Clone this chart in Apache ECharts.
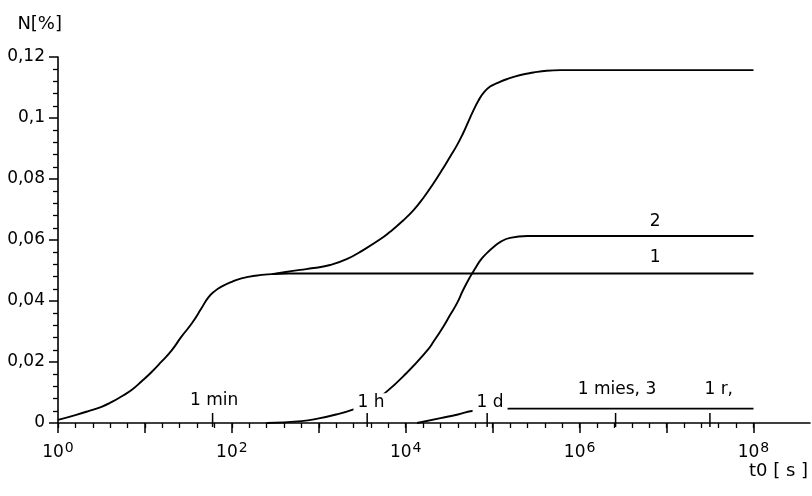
<!DOCTYPE html>
<html><head><meta charset="utf-8">
<script src="https://cdn.jsdelivr.net/npm/echarts@6/dist/echarts.min.js"></script>
<style>html,body{margin:0;padding:0;background:#fff}#c{width:812px;height:496px}</style>
</head><body><div id="c"></div>
<script>
// x values are decimal exponents: t0 = 10^x seconds; y values are N in %
const curve1X = [0, 0.2, 0.35, 0.5, 0.62, 0.73, 0.85, 0.96, 1.08, 1.19, 1.31, 1.42, 1.54, 1.65, 1.73, 1.81, 1.88, 2.0, 2.11, 2.27, 2.46, 2.65, 3.0, 8];
const curve1Y = [0.001, 0.0026, 0.0039, 0.0053, 0.0069, 0.0087, 0.0109, 0.0136, 0.0168, 0.0201, 0.0239, 0.0283, 0.0327, 0.0376, 0.0412, 0.0434, 0.0447, 0.0463, 0.0474, 0.0483, 0.0488, 0.049, 0.049, 0.049];

const totalX = [2.46, 2.62, 2.785, 2.94, 3.13, 3.32, 3.51, 3.71, 3.82, 3.97, 4.09, 4.2, 4.32, 4.43, 4.51, 4.59, 4.66, 4.72, 4.78, 4.84, 4.89, 4.97, 5.05, 5.16, 5.32, 5.47, 5.62, 5.78, 8];
const totalY = [0.0488, 0.0495, 0.0502, 0.0508, 0.0518, 0.0537, 0.0567, 0.0603, 0.0627, 0.0664, 0.0698, 0.0737, 0.0786, 0.0835, 0.0873, 0.0911, 0.095, 0.0988, 0.1026, 0.1059, 0.1081, 0.1103, 0.1114, 0.1127, 0.1141, 0.1149, 0.1155, 0.1157, 0.1157];

const curve2X = [2.4, 2.8, 3.0, 3.2, 3.4, 3.6, 3.76, 4.01, 4.25, 4.32, 4.43, 4.51, 4.59, 4.66, 4.74, 4.8, 4.86, 4.93, 5.01, 5.09, 5.2, 5.4, 8];
const curve2Y = [0, 0.0006, 0.0015, 0.0028, 0.0045, 0.0068, 0.0098, 0.0164, 0.0239, 0.0267, 0.0315, 0.0354, 0.0393, 0.0436, 0.0479, 0.0507, 0.0534, 0.0556, 0.0577, 0.0594, 0.0607, 0.0613, 0.0613];

const curve3X = [4.13, 4.4, 4.6, 4.78, 5.2, 8];
const curve3Y = [0, 0.0016, 0.0028, 0.004, 0.0047, 0.0047];

const eventSeconds = [60, 3600, 86400, 2592000, 31536000];

const annotTexts = ['1 min', '1 h', '1 d', '1 mies, 3', '1 r,', '2', '1'];
const annotX = [1.795, 3.60, 4.97, 6.43, 7.60, 6.87, 6.87];
const annotY = [0.0072, 0.0066, 0.0066, 0.0111, 0.0111, 0.0659, 0.0541];

const xLabelExps = [0, 2, 4, 6, 8];
const xMajorExps = [0, 1, 2, 3, 4, 5, 6, 7, 8];

const font = 'DejaVu Sans';
const black = '#000';
const minorX = [];
for (let i = 0; i <= 40; i++) minorX.push(+(i * 0.2).toFixed(1));

const zip = (xs, ys) => xs.map((x, i) => [x, ys[i]]);
const lineSeries = (xs, ys) => ({
  type: 'line', data: zip(xs, ys), smooth: 0.5,
  showSymbol: false, symbol: 'none', clip: false,
  lineStyle: { color: black, width: 1.9 }, z: 2
});

const chart = echarts.init(document.getElementById('c'));
chart.setOption({
  animation: false,
  backgroundColor: '#fff',
  grid: { left: 58, right: 2, top: 57, bottom: 73 },
  xAxis: [{
    type: 'value', min: 0, max: 8.65, interval: 1,
    axisLine: { lineStyle: { color: black, width: 1.6 } },
    axisTick: { customValues: minorX, length: 5, lineStyle: { color: black, width: 1.3 } },
    axisLabel: {
      customValues: xLabelExps,
      formatter: v => '10{s|' + v + '}',
      margin: 18, color: black, fontFamily: font, fontSize: 17, lineHeight: 24,
      verticalAlign: 'top',
      rich: { s: { fontSize: 14, fontFamily: font, color: black, verticalAlign: 'top', lineHeight: 14, padding: [0, 0, 12, 1] } }
    },
    splitLine: { show: false }
  }, {
    type: 'value', min: 0, max: 8.65, position: 'bottom',
    axisLine: { show: false },
    axisTick: { customValues: xMajorExps, length: 10, lineStyle: { color: black, width: 1.5 } },
    axisLabel: { show: false },
    splitLine: { show: false }
  }],
  yAxis: {
    type: 'value', min: 0, max: 0.12, interval: 0.02,
    axisLine: { show: true, lineStyle: { color: black, width: 1.6 } },
    axisTick: { length: 9, lineStyle: { color: black, width: 1.5 } },
    minorTick: { show: true, splitNumber: 5, length: 5, lineStyle: { color: black, width: 1.3 } },
    axisLabel: {
      formatter: v => String(+v.toFixed(2)).replace('.', ','),
      margin: 13, color: black, fontFamily: font, fontSize: 17
    },
    splitLine: { show: false }, minorSplitLine: { show: false },
    name: 'N[%]', nameLocation: 'end', nameGap: 24,
    nameTextStyle: { align: 'right', padding: [0, -4, 0, 0], color: black, fontFamily: font, fontSize: 18 }
  },
  graphic: [{
    type: 'text', right: 4, top: 462,
    style: { text: 't0 [ s ]', fill: black, font: '18px "DejaVu Sans"' }
  }],
  series: [
    lineSeries(curve1X, curve1Y),
    lineSeries(totalX, totalY),
    lineSeries(curve2X, curve2Y),
    lineSeries(curve3X, curve3Y),
    {
      type: 'scatter', clip: false, z: 3,
      data: eventSeconds.map(s => [Math.log10(s), 0]),
      symbol: 'rect', symbolSize: [1.5, 14], symbolOffset: [0, -3],
      itemStyle: { color: black, opacity: 1 }
    },
    {
      type: 'scatter', clip: false, z: 5,
      data: annotTexts.map((t, i) => ({ name: t, value: [annotX[i], annotY[i]] })),
      symbolSize: 0,
      itemStyle: { opacity: 1 },
      label: {
        show: true, position: 'inside', formatter: p => p.name, opacity: 1,
        color: black, fontFamily: font, fontSize: 17, textBorderWidth: 0,
        backgroundColor: '#fff', padding: [1, 4]
      }
    }
  ]
});
</script></body></html>
